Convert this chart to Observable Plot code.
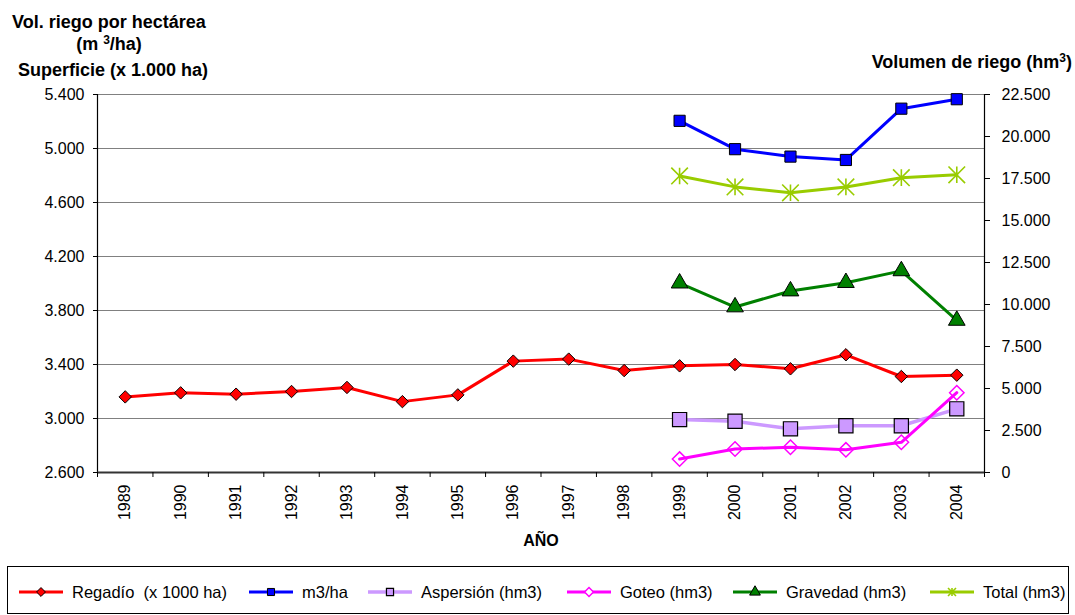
<!DOCTYPE html>
<html><head><meta charset="utf-8">
<script src="https://cdn.jsdelivr.net/npm/d3@7"></script>
<script src="https://cdn.jsdelivr.net/npm/@observablehq/plot@0.6"></script>
<style>
html,body{margin:0;padding:0;background:#fff;}
#wrap{position:relative;width:1075px;height:615px;overflow:hidden;font-family:"Liberation Sans",Arial,sans-serif;color:#000;}
#chart{position:absolute;left:0;top:0;}
#overlay{position:absolute;left:0;top:0;pointer-events:none;}
#overlay text{white-space:pre;}
</style></head><body>
<div id="wrap"><div id="chart"></div><svg id="overlay" width="1075" height="615"></svg></div>
<script>
// ---- data ----
const years = [1989,1990,1991,1992,1993,1994,1995,1996,1997,1998,1999,2000,2001,2002,2003,2004];
const regadio = [3160,3190,3180,3200,3230,3125,3175,3425,3440,3355,3390,3400,3368,3472,3311,3321];
const years2 = [1999,2000,2001,2002,2003,2004];
const m3ha = [5205,4995,4940,4915,5295,5365];
const aspersion = [3150,3050,2600,2780,2780,3790];
const goteo = [800,1400,1500,1350,1800,4750];
const gravedad = [11270,9850,10800,11300,12000,9050];
const total = [17650,17000,16650,17000,17550,17720];
const leftTicks = [2600,3000,3400,3800,4200,4600,5000,5400];
const rightTicks = [0,2500,5000,7500,10000,12500,15000,17500,20000,22500];
const seriesNames = ["Regadío  (x 1000 ha)","m3/ha","Aspersión (hm3)","Goteo (hm3)","Gravedad (hm3)","Total (hm3)"];

const fmt = d3.formatLocale({decimal:",", thousands:".", grouping:[3], currency:["",""]}).format(",");
const L0 = leftTicks[0], L1 = leftTicks[leftTicks.length-1], R1 = rightTicks[rightTicks.length-1];
const toL = v => L0 + v*(L1-L0)/R1;
const fromL = y => (y-L0)*R1/(L1-L0);
const xmin = years[0]-0.5, xmax = years[years.length-1]+0.5;
const bounds = years.map(y => y-0.5).concat([xmax]);

const rows = (xs, vs, right) => xs.map((x,i) => ({year:x, value: right ? toL(vs[i]) : vs[i]}));
const dReg = rows(years, regadio, false);
const dM3 = rows(years2, m3ha, false);
const dAsp = rows(years2, aspersion, true);
const dGot = rows(years2, goteo, true);
const dGra = rows(years2, gravedad, true);
const dTot = rows(years2, total, true);

const star = {draw(ctx, size){ const a = Math.sqrt(size/Math.PI);
  ctx.moveTo(-a,-a); ctx.lineTo(a,a); ctx.moveTo(a,-a); ctx.lineTo(-a,a);
  ctx.moveTo(0,-a); ctx.lineTo(0,a);}};

const styles = [
  {data:dReg, color:"#FF0000", sym:"diamond2", r:5.6, fill:"#FF0000", stroke:"#000", sw:1, lw:3},
  {data:dM3, color:"#0000FF", sym:"square", r:6.3, fill:"#0000FF", stroke:"#000", sw:1, lw:3},
  {data:dAsp, color:"#CC99FF", sym:"square", r:8, fill:"#CC99FF", stroke:"#000", sw:1.2, lw:3.5},
  {data:dGot, color:"#FF00FF", sym:"diamond2", r:6.5, fill:"none", stroke:"#FF00FF", sw:1.5, lw:3},
  {data:dGra, color:"#008000", sym:"triangle", r:6.2, fill:"#008000", stroke:"#000", sw:1, lw:3},
  {data:dTot, color:"#99CC00", sym:star, r:8.3, fill:"none", stroke:"#99CC00", sw:1.6, lw:3}
];

const seriesMarks = styles.flatMap(s => [
  Plot.line(s.data, {x:"year", y:"value", stroke:s.color, strokeWidth:s.lw}),
  Plot.dot(s.data, {x:"year", y:"value", symbol:s.sym, r:s.r, fill:s.fill, stroke:s.stroke, strokeWidth:s.sw})
]);

const chart = Plot.plot({
  width:1075, height:560,
  marginTop:94, marginBottom:88, marginLeft:97, marginRight:91,
  x:{type:"linear", domain:[xmin, xmax]},
  y:{domain:[L0, L1]},
  style:{fontFamily:'"Liberation Sans", Arial, sans-serif', fontSize:"16px", color:"#000", background:"#fff"},
  marks:[
    Plot.gridY(leftTicks, {stroke:"#808080", strokeOpacity:1}),
    Plot.ruleX([xmin, xmax], {stroke:"#000", strokeWidth:1.2}),
    Plot.ruleY([L0], {stroke:"#333", strokeWidth:2}),
    Plot.axisY({ticks:leftTicks, tickFormat:fmt, tickSize:4, tickPadding:9, label:null, fontSize:16}),
    Plot.axisY({anchor:"right", ticks:rightTicks.map(toL), tickFormat:d => fmt(Math.round(fromL(d))), tickSize:5, tickPadding:12, label:null, fontSize:16}),
    Plot.axisX({ticks:bounds, tickFormat:() => "", tickSize:5, label:null}),
    Plot.text(years, {x:d => d, y:L0, text:d => String(d), rotate:-90, textAnchor:"end", dy:12, fontSize:16}),
    Plot.text(["AÑO"], {frameAnchor:"bottom", text:d => d, dy:73, fontWeight:"bold", fontSize:16}),
    ...seriesMarks
  ]
});
document.getElementById("chart").append(chart);

// ---- titles and legend ----
const ov = d3.select("#overlay");
const tfont = '"Liberation Sans", Arial, sans-serif';
function title(x, y, anchor, parts){
  const t = ov.append("text").attr("x", x).attr("y", y).attr("text-anchor", anchor)
    .attr("font-family", tfont).attr("font-size", 18).attr("font-weight", "bold");
  parts.forEach(p => { const s = t.append("tspan").text(p[0]); if (p[1]) s.attr("font-size", 12).attr("dy", -6); else if (p[2]) s.attr("dy", 6); });
}
title(12, 28, "start", [["Vol. riego por hectárea"]]);
title(109, 50, "middle", [["(m "],["3", true],["/ha)", false, true]]);
title(18, 76, "start", [["Superficie (x 1.000 ha)"]]);
title(1072, 68, "end", [["Volumen de riego (hm"],["3", true],[")", false, true]]);

ov.append("rect").attr("x", 7.5).attr("y", 566.5).attr("width", 1061).attr("height", 47)
  .attr("fill", "none").attr("stroke", "#000").attr("stroke-width", 1);
const legX = [19, 249, 368, 567, 733, 930];
const ly = 592;
styles.forEach((s, i) => {
  const x0 = legX[i], x1 = x0 + 44, xm = (x0 + x1) / 2;
  ov.append("line").attr("x1", x0).attr("x2", x1).attr("y1", ly).attr("y2", ly)
    .attr("stroke", s.color).attr("stroke-width", s.lw);
  const type = {diamond2: d3.symbolDiamond2, square: d3.symbolSquare, triangle: d3.symbolTriangle}[s.sym] || s.sym;
  const size = Math.PI * 4 * 4;
  ov.append("path").attr("d", d3.symbol(type, size)()).attr("transform", `translate(${xm},${ly})`)
    .attr("fill", s.fill === "none" ? (s.sym === star ? "none" : "#fff") : s.fill)
    .attr("stroke", s.stroke).attr("stroke-width", s.sw);
  ov.append("text").attr("x", x1 + 9).attr("y", 598).attr("font-family", tfont).attr("font-size", 16.5)
    .attr("xml:space", "preserve").text(seriesNames[i]);
});
</script>
</body></html>
